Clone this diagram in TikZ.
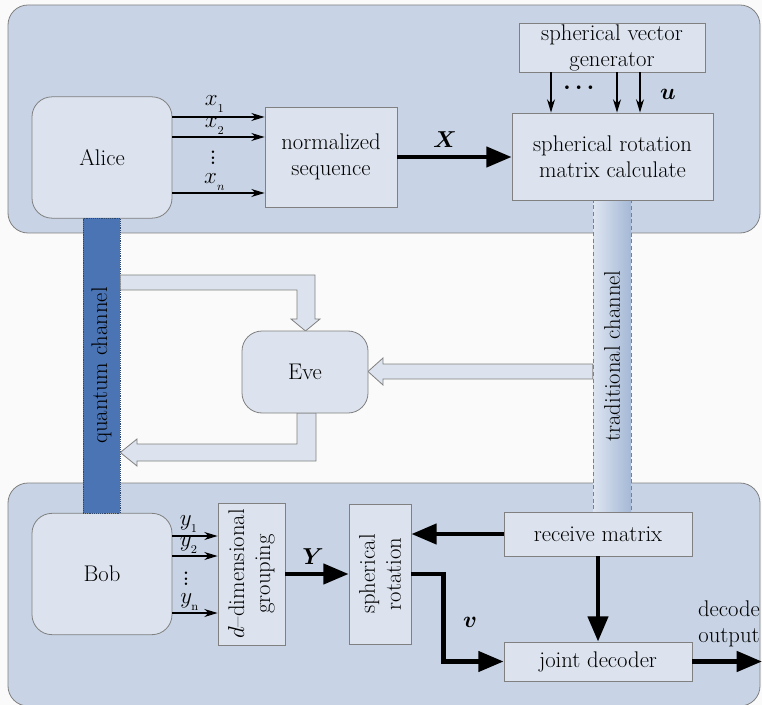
\documentclass[tikz,border=0pt]{standalone}
\usepackage{amsmath}
\usepackage{bm}
\usepackage{tikz}
\usetikzlibrary{positioning,arrows.meta,calc}
\definecolor{dPanel}{RGB}{200,212,229}
\definecolor{dFill}{RGB}{220,227,238}
\definecolor{dEdge}{RGB}{128,128,128}
\definecolor{dQuant}{RGB}{74,116,180}
\definecolor{dTradL}{RGB}{222,229,240}
\definecolor{dTradR}{RGB}{164,184,214}
\newcommand{\fs}{\fontsize{17}{19.5}\selectfont}
\tikzset{
  panel/.style={draw=dEdge, fill=dPanel, rounded corners=15pt, line width=0.6pt},
  party/.style={rectangle, draw=dEdge, fill=dFill, rounded corners=15pt,
                minimum width=105pt, minimum height=91pt, font=\fs, line width=0.6pt},
  comp/.style={rectangle, draw=dEdge, fill=dFill, align=center, font=\fs,
               inner sep=0pt, line width=0.6pt},
  vtxt/.style={rotate=90, align=center, font=\fs, inner sep=0pt},
  flow/.style={-{Stealth[length=10pt,width=6pt]}, line width=1pt},
  bflow/.style={-{Triangle[length=19pt,width=15pt]}, line width=3.4pt},
  hollow/.style={draw=dEdge, fill=dFill, line width=0.6pt},
  lbl/.style={font=\fs, inner sep=0pt},
  mlbl/.style={font=\fontsize{19}{19}\selectfont, inner sep=0pt},
  dots/.style={font=\fontsize{13}{13}\selectfont, inner sep=0pt},
}

\begin{document}
\begin{tikzpicture}[x=0.75pt, y=-0.75pt]
  \useasboundingbox[fill=white!98!black] (0,0) rectangle (762,705);

  % ---- two panels ----
  \draw[panel] (8,5) rectangle (760,233);
  \draw[panel] (8,483) rectangle (760,706);

  % ---- parties ----
  \node[party] (alice) at (102,157.5) {Alice};
  \node[party] (bob) at (102,574) {Bob};

  % ---- channels ----
  \node[rectangle, fill=dQuant, draw=dQuant!60!black, densely dotted,
        minimum width=27.75pt, minimum height=221.25pt, inner sep=0pt]
        (qc) at (101.5,365.5) {};
  \node[vtxt] at (qc) {quantum channel};
  \node[rectangle, left color=dTradL, right color=dTradR, draw=dEdge,
        dash pattern=on 3pt off 2pt, minimum width=28.5pt, minimum height=234pt,
        inner sep=0pt] (tc) at (612,356) {};
  \node[vtxt] at (tc) {traditional channel};

  % ---- Alice side ----
  \node[comp, minimum width=99pt, minimum height=75pt] (ns) at (331,157)
        {normalized\\sequence};
  \node[comp, minimum width=150.75pt, minimum height=65.25pt] (src) at (612.5,156.5)
        {spherical rotation\\matrix calculate};
  \node[comp, minimum width=139.5pt, minimum height=36.75pt] (svg) at (612,47.5)
        {spherical vector\\generator};

  % ---- Bob side ----
  \node[comp, minimum width=50.25pt, minimum height=106.5pt] (dg) at (251.5,574) {};
  \node[vtxt] at (dg) {$d$--dimensional\\grouping};
  \node[comp, minimum width=46.5pt, minimum height=105pt] (sr) at (380,574) {};
  \node[vtxt] at (sr) {spherical\\rotation};
  \node[comp, minimum width=141pt, minimum height=33pt] (rm) at (598,534) {receive matrix};
  \node[comp, minimum width=141pt, minimum height=29.25pt] (jd) at (598,661.5) {joint decoder};
  \coordinate (out) at (762,661.5);

  % ===== eavesdropping (hollow arrows) =====
  \draw[hollow] (qc.east |- 0,275) -- (315,275) -- (315,319) -- (320,319)
        -- (305.5,331) -- (291,319) -- (297,319) -- (297,290) -- (qc.east |- 0,290) -- cycle;
  \draw[hollow] (tc.west |- 0,364) -- (383,364) -- (383,358) -- (368,371.5)
        -- (383,385) -- (383,379) -- (tc.west |- 0,379) -- cycle;
  \draw[hollow] (297,413) -- (297,444) -- (137,444) -- (137,439) -- (qc.east |- 0,452.5)
        -- (137,466) -- (137,461) -- (316,461) -- (316,413) -- cycle;
  \node[party, minimum width=94.5pt, minimum height=61.5pt] (eve) at (305,372) {Eve};

  % ===== Alice edges =====
  \draw[flow] (alice.east |- 0,117) -- (ns.west |- 0,117);
  \draw[flow] (alice.east |- 0,137) -- (ns.west |- 0,137);
  \draw[flow] (alice.east |- 0,193) -- (ns.west |- 0,193);
  \node[mlbl] at (215,104) {$x_{_1}$};
  \node[mlbl] at (215,126) {$x_{_2}$};
  \node[dots] at (213,154) {$\bm{\vdots}$};
  \node[mlbl] at (215,182) {$x_{_n}$};
  \draw[bflow] (ns.east) -- (ns.east -| src.west);
  \node[mlbl] at (445,140) {$\bm{X}$};
  \foreach \xx in {551,617,640}{ \draw[flow] (svg.south -| \xx,0) -- (src.north -| \xx,0); }
  \node[lbl] at (581,88) {$\bm{\cdots}$};
  \node[mlbl] at (668,94) {$\bm{u}$};

  % ===== Bob edges =====
  \draw[flow] (bob.east |- 0,536) -- (dg.west |- 0,536);
  \draw[flow] (bob.east |- 0,556) -- (dg.west |- 0,556);
  \draw[flow] (bob.east |- 0,613) -- (dg.west |- 0,613);
  \node[mlbl] at (189,524) {$y_{_1}$};
  \node[mlbl] at (189,545) {$y_{_2}$};
  \node[dots] at (186,575) {$\bm{\vdots}$};
  \node[mlbl] at (190,602) {$y_{_\mathrm{n}}$};
  \draw[bflow] (dg.east) -- (sr.west);
  \node[mlbl] at (313,557) {$\bm{Y}$};
  \draw[bflow] (rm.west) -- (rm.west -| sr.east);
  \draw[bflow] (rm.south) -- (jd.north);
  \draw[bflow] (sr.east) -- ++(32,0) |- (jd.west);
  \node[mlbl] at (470,622) {$\bm{v}$};
  \draw[bflow] (jd.east) -- (out);
  \node[lbl, align=center] at (729,624) {decode\\output};

\end{tikzpicture}
\end{document}
